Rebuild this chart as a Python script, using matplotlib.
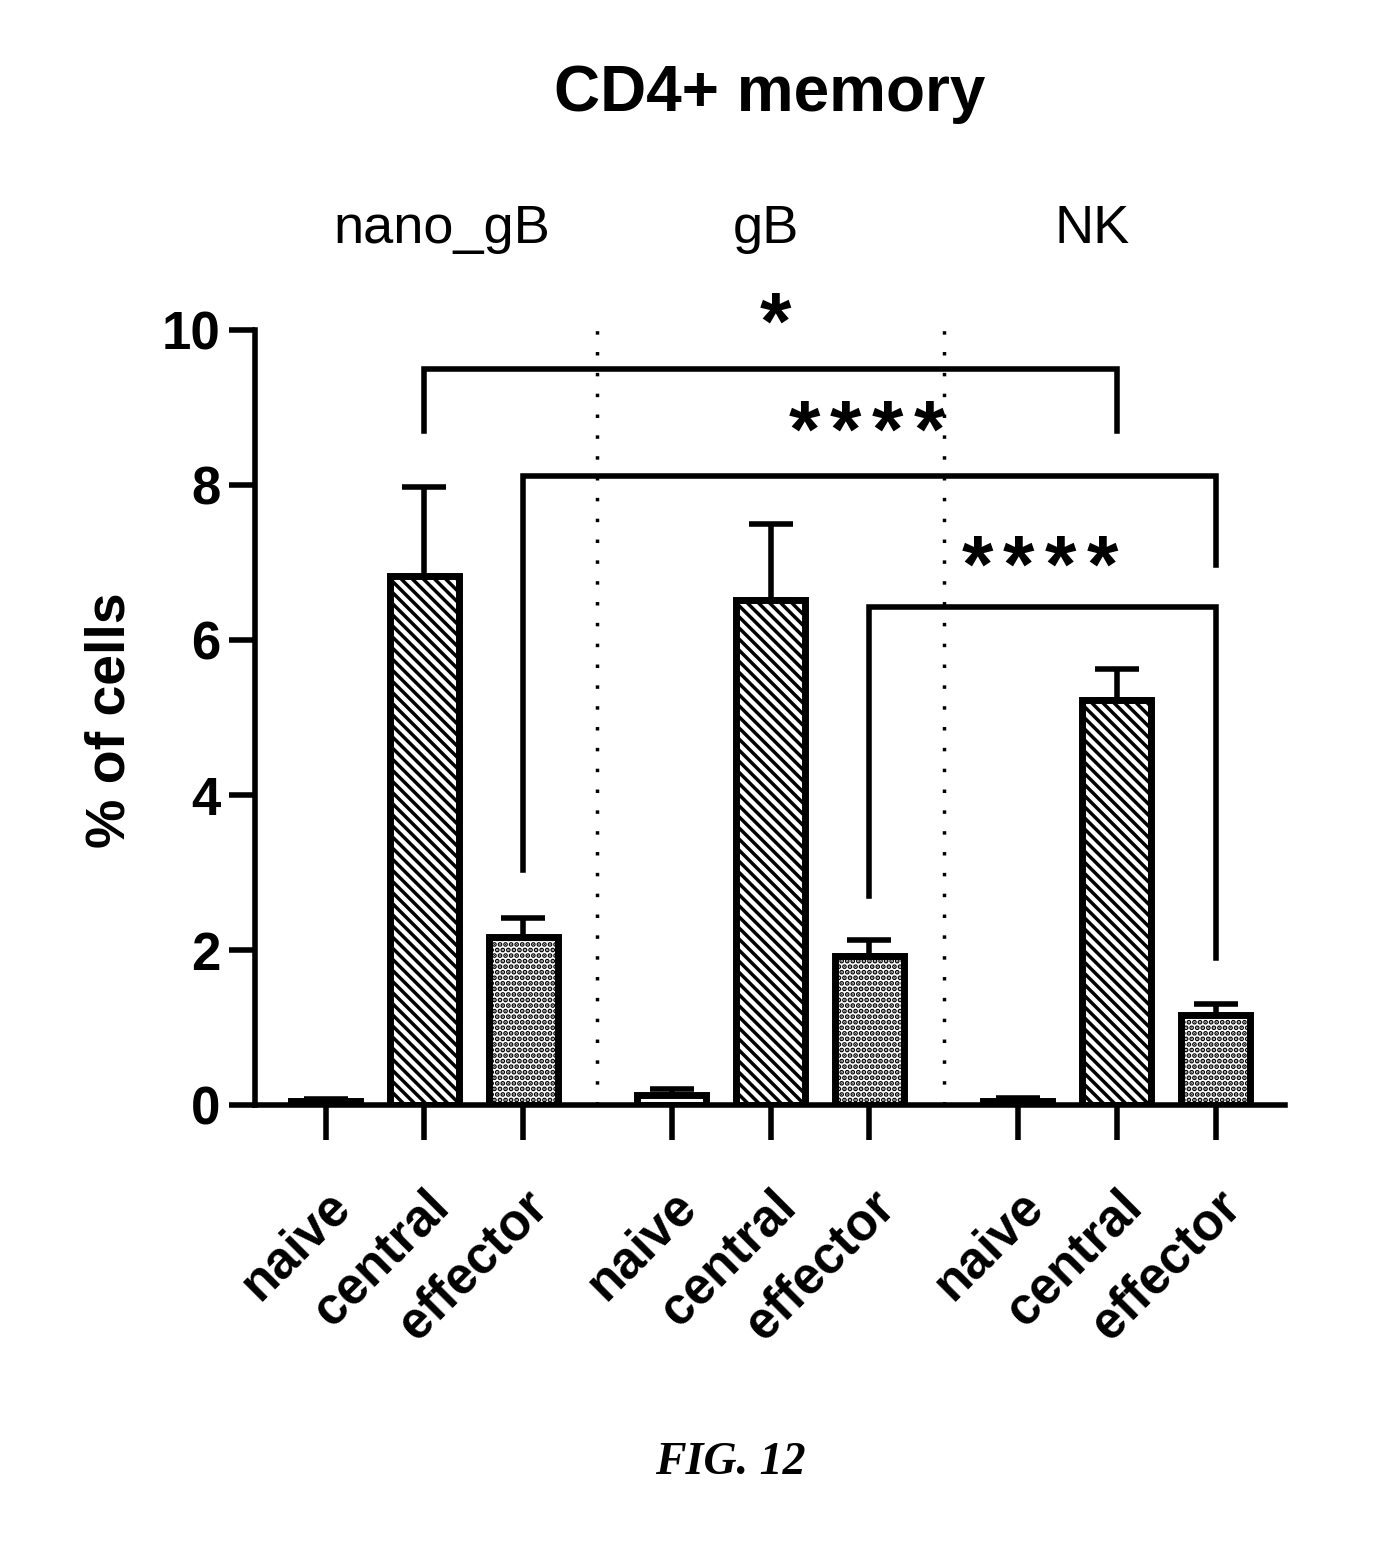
import numpy as np
import matplotlib.pyplot as plt

plt.rcParams['font.family'] = ['Liberation Sans', 'DejaVu Sans']
plt.rcParams['hatch.linewidth'] = 2.5

groups = ['nano_gB', 'gB', 'NK']
subsets = ['naive', 'central', 'effector']
xpos = [0, 1, 2, 3.5, 4.5, 5.5, 7, 8, 9]
means = [0.05, 6.83, 2.17, 0.13, 6.52, 1.92, 0.05, 5.22, 1.16]
errs = [0.03, 1.15, 0.24, 0.08, 0.98, 0.21, 0.04, 0.40, 0.15]
hatches = ['', '\\\\\\', '...'] * 3

# bracket: x left, x right, top y, left leg end, right leg end, stars, label x, label y
brackets = [
    (1, 8, 9.5, 8.7, 8.7, 1, 4.55, 10.23),
    (2, 9, 8.12, 3.03, 6.97, 4, 5.47, 8.84),
    (5.5, 9, 6.43, 2.7, 1.9, 4, 7.22, 7.1),
]
separators = [2.75, 6.25]
group_x = [1.18, 4.45, 7.75]

fig = plt.figure(figsize=(13.8, 15.49), dpi=100)
ax = fig.add_axes([0.185, 0.2866, 0.746, 0.5004])

for i in range(len(xpos)):
    ax.bar(xpos[i], means[i], width=0.7, color='white', edgecolor='black',
           linewidth=5, hatch=hatches[i], zorder=3)
    ax.errorbar(xpos[i], means[i], yerr=[[0], [errs[i]]], fmt='none',
                ecolor='black', elinewidth=4, capsize=16, capthick=4, zorder=2)

for s in separators:
    ax.plot([s, s], [0, 10], ls=(0, (1, 5)), color='black', lw=2.5, zorder=1)

for b in brackets:
    x1, x2, yt, y1, y2, n, lx, ly = b
    ax.plot([x1, x1, x2, x2], [y1, yt, yt, y2], color='black', lw=4,
            solid_joinstyle='miter', clip_on=False)
    # stars spaced apart like the original
    for k in range(n):
        off = (k - (n - 1) / 2) * 30
        ax.annotate('*', (lx, ly - 0.2), xytext=(off, 0), textcoords='offset points',
                    ha='center', va='center', fontsize=58, fontweight='bold',
                    annotation_clip=False)

for g, gx in zip(groups, group_x):
    ax.text(gx, 11.3, g, ha='center', va='center', fontsize=39, clip_on=False)

ax.set_xlim(-0.71, 9.7)
ax.set_ylim(0, 10)
ax.set_yticks([0, 2, 4, 6, 8, 10])
ax.set_yticklabels(['0', '2', '4', '6', '8', '10'], fontsize=38, fontweight='bold')
ax.set_xticks(xpos)
ax.set_xticklabels(subsets * 3, rotation=45, ha='right', rotation_mode='anchor',
                   fontsize=37, fontweight='bold')
ax.tick_params(axis='y', direction='out', length=19, width=4, pad=6)
ax.tick_params(axis='x', direction='out', length=25, width=4, pad=30)
ax.spines['top'].set_visible(False)
ax.spines['right'].set_visible(False)
ax.spines['left'].set_linewidth(4)
ax.spines['bottom'].set_linewidth(4)
ax.spines['bottom'].set_zorder(4)

fig.text(0.08, 0.535, '% of cells', rotation=90, ha='center', va='center',
         fontsize=40, fontweight='bold')
fig.text(0.558, 0.939, 'CD4+ memory', ha='center', va='center',
         fontsize=46, fontweight='bold')
fig.text(0.529, 0.0555, 'FIG. 12', ha='center', va='center', fontsize=33,
         family='Liberation Serif', style='italic', fontweight='bold')

fig.savefig('out.png', dpi=100)
